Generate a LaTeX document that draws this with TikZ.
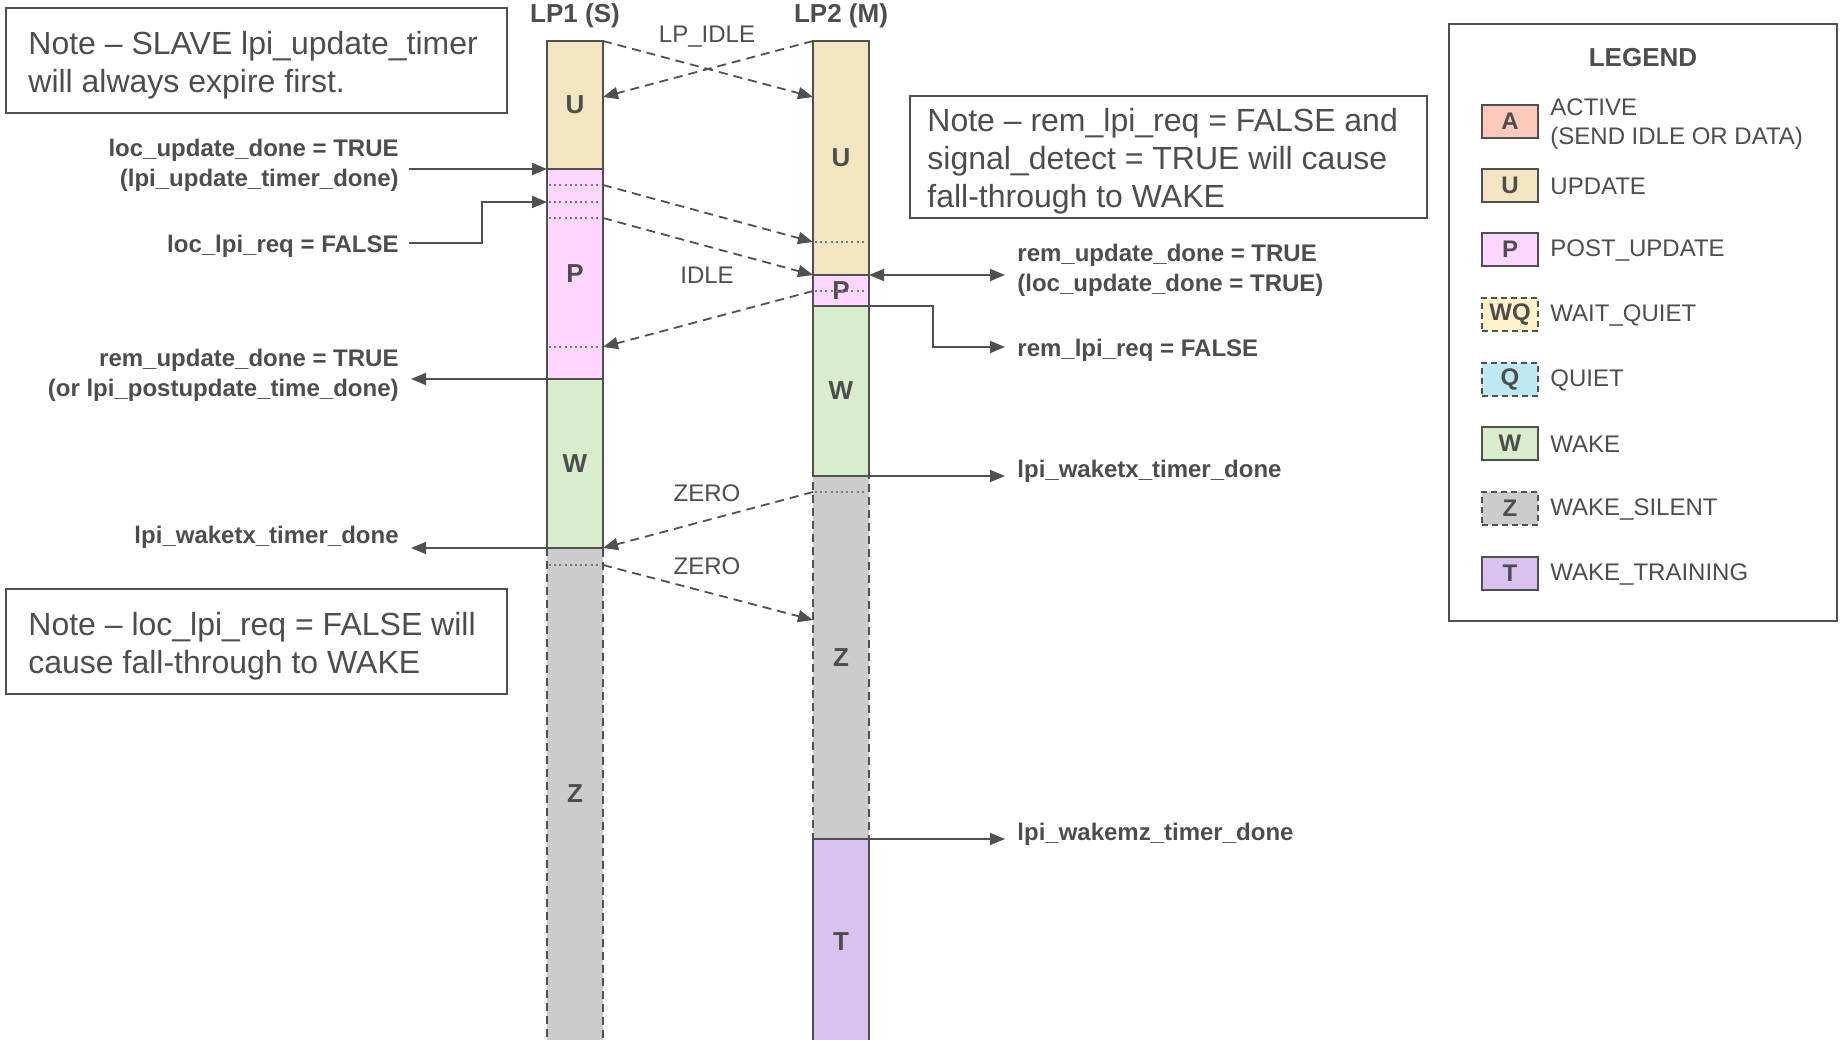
\documentclass[tikz,border=0pt]{standalone}
\usepackage{fontspec}
\setmainfont{Liberation Sans}
\usetikzlibrary{arrows.meta,calc}
\definecolor{ucol}{RGB}{242,229,193}
\definecolor{pcol}{RGB}{255,214,255}
\definecolor{wcol}{RGB}{217,237,204}
\definecolor{zcol}{RGB}{204,204,204}
\definecolor{tcol}{RGB}{217,193,240}
\definecolor{acol}{RGB}{255,201,187}
\definecolor{wqcol}{RGB}{255,242,200}
\definecolor{qcol}{RGB}{191,233,242}
\definecolor{lc}{RGB}{80,80,80}
\definecolor{tc}{RGB}{77,77,77}
\definecolor{dotc}{RGB}{120,120,120}
\begin{document}
\begin{tikzpicture}[x=0.5pt,y=-0.5pt,
  every node/.style={text=tc},
  seg/.style={draw=lc, line width=1pt, minimum width=28pt, inner sep=0pt, outer sep=0pt, font=\fontsize{13}{15}\selectfont\bfseries},
  segdash/.style={seg, dash pattern=on 4pt off 2.5pt},
  seglbl/.style={inner sep=0pt, font=\fontsize{13}{15}\selectfont\bfseries},
  dotl/.style={draw=dotc, line width=0.7pt, dash pattern=on 1pt off 1.6pt},
  darr/.style={draw=lc, line width=0.9pt, dash pattern=on 4.5pt off 3pt, -{Triangle[length=7.5pt,width=6pt]}},
  sarr/.style={draw=lc, line width=0.9pt, -{Triangle[length=7.5pt,width=6pt]}},
  darrow/.style={draw=lc, line width=0.9pt, {Triangle[length=7.5pt,width=6pt]}-{Triangle[length=7.5pt,width=6pt]}},
  ann/.style={font=\fontsize{12}{15.2}\selectfont\bfseries, inner sep=0pt},
  msg/.style={font=\fontsize{12}{14}\selectfont, inner sep=0pt},
  lane/.style={font=\fontsize{13}{15}\selectfont\bfseries, inner sep=0pt},
  notebox/.style={draw=lc, line width=0.8pt, inner sep=0pt},
  notetext/.style={font=\fontsize{16}{19}\selectfont, align=left, inner sep=0pt, anchor=west},
  sw/.style={draw=lc, line width=1pt, minimum width=28pt, minimum height=16.5pt, inner sep=0pt, font=\fontsize{12}{14}\selectfont\bfseries},
  swd/.style={sw, dash pattern=on 3pt off 2pt},
  leg/.style={font=\fontsize{12}{14.2}\selectfont, inner sep=0pt, anchor=west, align=left},
]
\useasboundingbox (0,0) rectangle (1840,1039);
\clip (0,0) rectangle (1840,1039);

% ---------- LP1 column ----------
\node[segdash, fill=zcol, minimum height=256pt] (z1) at (575,804) {};
\node[seg, fill=ucol, minimum height=64pt] (u1) at (575,105) {U};
\node[seg, fill=pcol, minimum height=105pt] (p1) at (575,274) {P};
\node[seg, fill=wcol, minimum height=84.5pt] (w1) at (575,463.5) {W};
\node[seglbl] (z1l) at (575,794) {Z};

% ---------- LP2 column ----------
\node[segdash, fill=zcol, minimum height=181.5pt] (z2) at (841,657.5) {Z};
\node[seg, fill=ucol, minimum height=117pt] (u2) at (841,158) {U};
\node[seg, fill=pcol, minimum height=15.5pt] (p2) at (841,290.5) {P};
\node[seg, fill=wcol, minimum height=85pt] (w2) at (841,391) {W};
\node[seg, fill=tcol, minimum height=110.5pt] (t2) at (841,949.5) {};
\node[seglbl] (t2l) at (841,942) {T};

% dotted markers
\draw[dotl] (549,185) -- (601,185);
\draw[dotl] (549,202) -- (601,202);
\draw[dotl] (549,218) -- (601,218);
\draw[dotl] (549,347) -- (601,347);
\draw[dotl] (549,565) -- (601,565);
\draw[dotl] (815,242) -- (867,242);
\draw[dotl] (815,291) -- (867,291);
\draw[dotl] (815,492) -- (867,492);

% lane titles
\node[lane] (lp1) at (575,16) {LP1 (S)};
\node[lane] (lp2) at (841,16) {LP2 (M)};

% ---------- message arrows ----------
\coordinate (a1e) at (813,97);
\coordinate (a2e) at (603,97);
\coordinate (a3s) at (603,185);
\coordinate (a3e) at (813,242);
\coordinate (a4s) at (603,218);
\coordinate (a5s) at (813,291);
\coordinate (a5e) at (603,347);
\coordinate (a6s) at (813,492);
\coordinate (a7s) at (603,565);
\coordinate (a7e) at (813,620);
\draw[darr] (u1.north east) -- (a1e);
\draw[darr] (u2.north west) -- (a2e);
\draw[darr] (a3s) -- (a3e);
\draw[darr] (a4s) -- (p2.north west);
\draw[darr] (a5s) -- (a5e);
\draw[darr] (a6s) -- (w1.south east);
\draw[darr] (a7s) -- (a7e);
\node[msg] (lpidle) at (707,37) {LP\_IDLE};
\node[msg] (idle) at (707,275) {IDLE};
\node[msg] (zero1) at (707,493) {ZERO};
\node[msg] (zero2) at (707,566) {ZERO};

% ---------- left annotations ----------
\node[ann, anchor=east, align=right] (n1) at (399,165.5) {loc\_update\_done = TRUE\\(lpi\_update\_timer\_done)};
\coordinate (n1s) at (409,169);
\draw[sarr] (n1s) -- (p1.north west);
\node[ann, anchor=east] (n2) at (399,246) {loc\_lpi\_req = FALSE};
\coordinate (n2s) at (409,243);
\coordinate (n2e) at (547,202);
\draw[sarr] (n2s) -- (482,243) |- (n2e);
\node[ann, anchor=east, align=right] (n3) at (399,375) {rem\_update\_done = TRUE\\(or lpi\_postupdate\_time\_done)};
\coordinate (n3e) at (411,379);
\draw[sarr] (p1.south west) -- (n3e);
\node[ann, anchor=east] (n4) at (399,537) {lpi\_waketx\_timer\_done};
\coordinate (n4e) at (411,548);
\draw[sarr] (w1.south west) -- (n4e);

% ---------- right annotations ----------
\node[ann, anchor=west, align=left] (n5) at (1017,270) {rem\_update\_done = TRUE\\(loc\_update\_done = TRUE)};
\coordinate (n5e) at (1005,275);
\draw[darrow] (u2.south east) -- (n5e);
\node[ann, anchor=west] (n6) at (1017,350) {rem\_lpi\_req = FALSE};
\coordinate (n6e) at (1005,347);
\draw[sarr] (p2.south east) -- (933,306) |- (n6e);
\node[ann, anchor=west] (n7) at (1017,471) {lpi\_waketx\_timer\_done};
\coordinate (n7e) at (1005,476);
\draw[sarr] (w2.south east) -- (n7e);
\node[ann, anchor=west] (n8) at (1017,834) {lpi\_wakemz\_timer\_done};
\coordinate (n8e) at (1005,839);
\draw[sarr] (t2.north east) -- (n8e);

% ---------- notes ----------
\node[notebox, minimum width=250.5pt, minimum height=52.5pt] (note1) at (256.5,60.5) {};
\node[notetext] (note1t) at (28,65) {Note – SLAVE lpi\_update\_timer\\will always expire first.};
\node[notebox, minimum width=258.5pt, minimum height=61pt] (note2) at (1168.5,157) {};
\node[notetext] (note2t) at (927,161) {Note – rem\_lpi\_req = FALSE and\\signal\_detect = TRUE will cause\\fall-through to WAKE};
\node[notebox, minimum width=250.5pt, minimum height=52.5pt] (note3) at (256.5,641.5) {};
\node[notetext] (note3t) at (28,646) {Note – loc\_lpi\_req = FALSE will\\cause fall-through to WAKE};

% ---------- legend ----------
\node[draw=lc, line width=1pt, minimum width=194pt, minimum height=298.5pt, inner sep=0pt] (legbox) at (1643,322.5) {};
\node[lane] (legt) at (1643,58) {LEGEND};
\node[sw, fill=acol] (swa) at (1510,121) {A};
\node[leg] (la) at (1550,124) {ACTIVE\\(SEND IDLE OR DATA)};
\node[sw, fill=ucol] (swu) at (1510,185.5) {U};
\node[leg] (lu) at (1550,186.5) {UPDATE};
\node[sw, fill=pcol] (swp) at (1510,249.5) {P};
\node[leg] (lpp) at (1550,250.5) {POST\_UPDATE};
\node[swd, fill=wqcol] (swwq) at (1510,314.5) {WQ};
\node[leg] (lwq) at (1550,315.5) {WAIT\_QUIET};
\node[swd, fill=qcol] (swq) at (1510,379.5) {Q};
\node[leg] (lq) at (1550,380.5) {QUIET};
\node[sw, fill=wcol] (sww) at (1510,443.5) {W};
\node[leg] (lw) at (1550,444.5) {WAKE};
\node[swd, fill=zcol] (swz) at (1510,508.5) {Z};
\node[leg] (lz) at (1550,509.5) {WAKE\_SILENT};
\node[sw, fill=tcol] (swt) at (1510,573) {T};
\node[leg] (lt) at (1550,574) {WAKE\_TRAINING};
\end{tikzpicture}
\end{document}
